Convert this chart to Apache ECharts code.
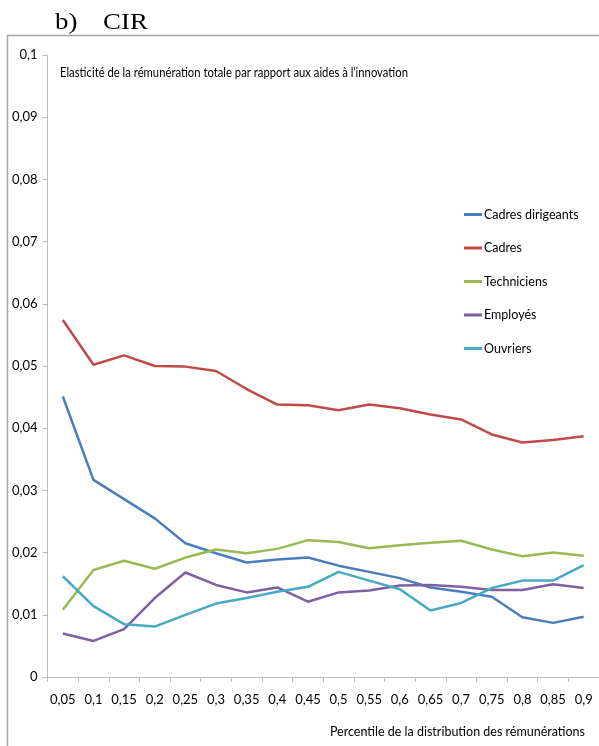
<!DOCTYPE html>
<html>
<head>
<meta charset="utf-8">
<script src="https://cdn.jsdelivr.net/npm/echarts@6/dist/echarts.min.js"></script>
<style>
  html, body { margin: 0; padding: 0; background: #fff; }
  #chart { width: 599px; height: 746px; }
</style>
</head>
<body>
<div id="chart"></div>
<script>
// Percentiles of the pay distribution (x axis categories)
const percentiles = ['0,05','0,1','0,15','0,2','0,25','0,3','0,35','0,4','0,45','0,5','0,55','0,6','0,65','0,7','0,75','0,8','0,85','0,9'];

// Elasticity of total pay with respect to innovation subsidies (CIR), by occupation
const cadresDirigeants = [0.0451,0.0317,0.0286,0.0255,0.0215,0.0199,0.0184,0.0189,0.0192,0.0179,0.0169,0.0159,0.0144,0.0137,0.0129,0.0096,0.0087,0.0097];
const cadres           = [0.0574,0.0502,0.0517,0.0500,0.0499,0.0492,0.0463,0.0438,0.0437,0.0429,0.0438,0.0432,0.0422,0.0414,0.0390,0.0377,0.0381,0.0387];
const techniciens      = [0.0108,0.0172,0.0187,0.0174,0.0192,0.0205,0.0199,0.0206,0.0220,0.0217,0.0207,0.0212,0.0216,0.0219,0.0205,0.0194,0.0200,0.0195];
const employes         = [0.0070,0.0058,0.0077,0.0127,0.0168,0.0148,0.0136,0.0144,0.0121,0.0136,0.0139,0.0147,0.0148,0.0145,0.0140,0.0140,0.0149,0.0143];
const ouvriers         = [0.0162,0.0114,0.0085,0.0081,0.0100,0.0118,0.0127,0.0137,0.0145,0.0169,0.0155,0.0141,0.0107,0.0119,0.0143,0.0155,0.0155,0.0180];

const seriesNames = ['Cadres dirigeants','Cadres','Techniciens','Employés','Ouvriers'];
const seriesData = [cadresDirigeants, cadres, techniciens, employes, ouvriers];
const colors = ['#4a7ebb','#be4b48','#98b954','#7d60a0','#46aac5'];

// Y axis tick labels, French decimal comma
const yTicks = ['0','0,01','0,02','0,03','0,04','0,05','0,06','0,07','0,08','0,09','0,1'];

const FONT = 'Lato, "Open Sans", sans-serif';
const SERIF = '"Liberation Serif", "DejaVu Serif", serif';
const AXIS_GRAY = '#bcbcbc';

const chart = echarts.init(document.getElementById('chart'), null, { renderer: 'canvas' });

chart.setOption({
  backgroundColor: '#ffffff',
  animation: false,
  color: colors,
  graphic: [
    // panel heading
    { type: 'text', x: 55, y: 23, scaleX: 1.12, style: { text: 'b)', font: '24px ' + SERIF, fill: '#000', verticalAlign: 'middle' } },
    { type: 'text', x: 103, y: 23, scaleX: 1.12, style: { text: 'CIR', font: '24px ' + SERIF, fill: '#000', verticalAlign: 'middle' } },
    // chart frame
    { type: 'rect', shape: { x: 7.5, y: 35.5, width: 700, height: 800 }, style: { fill: 'none', stroke: '#a6a6a6', lineWidth: 1.5 }, silent: true },
    // condensed subtitle inside the plot area
    { type: 'text', x: 60, y: 72, scaleX: 0.805,
      style: { text: "Elasticité de la rémunération totale par rapport aux aides à l'innovation",
               font: '14px ' + FONT, fill: '#000', verticalAlign: 'middle' } }
  ],
  legend: {
    orient: 'vertical',
    left: 464, top: 208,
    padding: 0,
    itemWidth: 18, itemHeight: 3, itemGap: 20.5,
    icon: 'rect',
    data: seriesNames,
    textStyle: { fontFamily: FONT, fontSize: 12.5, color: '#000', padding: [0, 0, 0, -3] }
  },
  grid: { left: 47.5, top: 55, width: 554.5, height: 622, containLabel: false },
  xAxis: {
    type: 'category',
    data: percentiles,
    boundaryGap: true,
    name: 'Percentile de la distribution des rémunérations',
    nameLocation: 'end',
    nameGap: 0,
    nameTextStyle: { fontFamily: FONT, fontSize: 12.5, color: '#000', align: 'right', verticalAlign: 'top', padding: [48, 14, 0, 0] },
    axisLine: { lineStyle: { color: AXIS_GRAY, width: 1 } },
    axisTick: { show: true, alignWithLabel: false, length: 5, lineStyle: { color: AXIS_GRAY } },
    axisLabel: { fontFamily: FONT, fontSize: 13, color: '#000', margin: 16, interval: 0 },
    splitLine: { show: false }
  },
  yAxis: {
    type: 'value',
    min: 0, max: 0.1, interval: 0.01,
    axisLine: { show: true, lineStyle: { color: AXIS_GRAY, width: 1 } },
    axisTick: { show: true, inside: false, length: 5, lineStyle: { color: AXIS_GRAY } },
    axisLabel: {
      fontFamily: FONT, fontSize: 13, color: '#000', margin: 10,
      formatter: function (v) { return yTicks[Math.round(v * 100)]; }
    },
    splitLine: { show: false }
  },
  series: seriesNames.map(function (name, i) {
    return {
      name: name,
      type: 'line',
      data: seriesData[i],
      symbol: 'none',
      smooth: false,
      lineStyle: { width: 2.5, color: colors[i] },
      itemStyle: { color: colors[i] }
    };
  })
});
</script>
</body>
</html>
